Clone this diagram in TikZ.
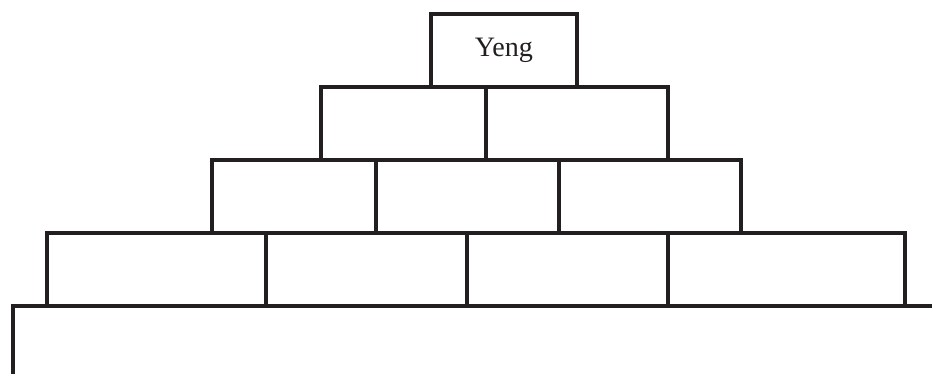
\documentclass[tikz,border=0pt]{standalone}
\usepackage{fontspec}
\setmainfont{Liberation Serif}
\usepackage{tikz}
\usetikzlibrary{positioning}
\definecolor{ink}{HTML}{231F20}

\begin{document}
\begin{tikzpicture}[line width=0.12cm, draw=ink,
    brick/.style={draw=ink, rectangle, inner sep=0pt, outer sep=0pt, minimum height=2.19cm}]
    \useasboundingbox (0,0) rectangle (27.96,11.22);
    % Nodes
    \node[brick, minimum width=4.38cm, font=\fontsize{24}{28}\selectfont, text=ink] (Top) at (15.12, 9.705) {Yeng};

    \node[brick, minimum width=4.95cm] (B21) at (12.105, 7.515) {};
    \node[brick, minimum width=5.46cm] (B22) at (17.31, 7.515) {};

    \node[brick, minimum width=4.92cm] (B31) at (8.82, 5.325) {};
    \node[brick, minimum width=5.49cm] (B32) at (14.025, 5.325) {};
    \node[brick, minimum width=5.46cm] (B33) at (19.5, 5.325) {};

    \node[brick, minimum width=6.57cm] (B41) at (4.695, 3.135) {};
    \node[brick, minimum width=6.03cm] (B42) at (10.995, 3.135) {};
    \node[brick, minimum width=6.03cm] (B43) at (17.025, 3.135) {};
    \node[brick, minimum width=7.11cm] (B44) at (23.595, 3.135) {};

    % Ground
    \coordinate (GB) at (0.39, 0);
    \coordinate (GL) at (0.39, 2.04);
    \coordinate (GR) at (27.96, 2.04);

    % Paths
    \draw[ink] (GB) -- (GL) -- (GR);
\end{tikzpicture}
\end{document}
